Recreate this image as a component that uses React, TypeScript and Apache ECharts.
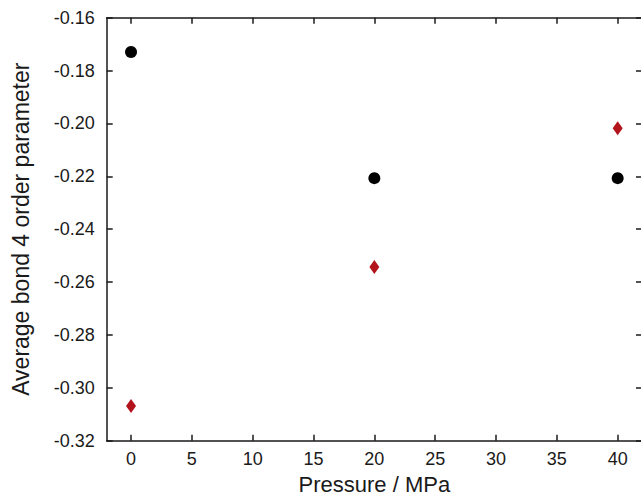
import React, { useEffect, useRef } from "react";
import * as echarts from "echarts";

const xTicks = [0, 5, 10, 15, 20, 25, 30, 35, 40];
const pressure = [0, 20, 40];
const seriesBlack = [-0.173, -0.2207, -0.2207];
const seriesRed = [-0.3069, -0.2543, -0.2018];

export default function App() {
  const ref = useRef<HTMLDivElement>(null);
  useEffect(() => {
    if (!ref.current) return;
    const chart = echarts.init(ref.current, null, { renderer: "svg" });
    const font = "Liberation Sans, Arial, sans-serif";
    const axisLine = { show: true, onZero: false, lineStyle: { color: "#1a1a1a", width: 1.5 } };
    const tick = { show: true, inside: true, length: 6, lineStyle: { color: "#1a1a1a", width: 1.5 } };
    chart.setOption({
      animation: false,
      backgroundColor: "#fff",
      grid: { left: 106.7, right: 8, top: 17.7, bottom: 56.3, containLabel: false, outerBoundsMode: "none" },
      xAxis: [
        {
          type: "value",
          min: -2,
          max: 42,
          position: "bottom",
          name: "Pressure / MPa",
          nameLocation: "middle",
          nameGap: 33,
          nameTextStyle: { fontFamily: font, fontSize: 22, color: "#1a1a1a" },
          axisLine,
          axisTick: { ...tick, customValues: xTicks },
          axisLabel: { customValues: xTicks, fontFamily: font, fontSize: 18, color: "#1a1a1a", margin: 9 },
          splitLine: { show: false },
        },
        {
          type: "value",
          min: -2,
          max: 42,
          position: "top",
          axisLine,
          axisTick: { ...tick, customValues: xTicks },
          axisLabel: { show: false },
          splitLine: { show: false },
        },
      ],
      yAxis: [
        {
          type: "value",
          min: -0.32,
          max: -0.16,
          interval: 0.02,
          position: "left",
          name: "Average bond 4 order parameter",
          nameLocation: "middle",
          nameGap: 74,
          nameTextStyle: { fontFamily: font, fontSize: 23, color: "#1a1a1a" },
          axisLine,
          axisTick: tick,
          axisLabel: {
            fontFamily: font,
            fontSize: 18,
            color: "#1a1a1a",
            margin: 12,
            formatter: (v: number) => v.toFixed(2),
          },
          splitLine: { show: false },
        },
        {
          type: "value",
          min: -0.32,
          max: -0.16,
          interval: 0.02,
          position: "right",
          axisLine,
          axisTick: tick,
          axisLabel: { show: false },
          splitLine: { show: false },
        },
      ],
      series: [
        {
          type: "scatter",
          data: pressure.map((p, i) => [p, seriesBlack[i]]),
          symbol: "circle",
          symbolSize: 12,
          itemStyle: { color: "#000", opacity: 1 },
        },
        {
          type: "scatter",
          data: pressure.map((p, i) => [p, seriesRed[i]]),
          symbol: "diamond",
          symbolSize: [10, 14],
          itemStyle: { color: "#b3141c", opacity: 1 },
        },
      ],
    });
    return () => chart.dispose();
  }, []);
  return (
    <div style={{ position: "fixed", left: 0, top: 0, width: 641, height: 497, overflow: "hidden", background: "#fff" }}>
      <div ref={ref} style={{ width: 650, height: 497 }} />
    </div>
  );
}
